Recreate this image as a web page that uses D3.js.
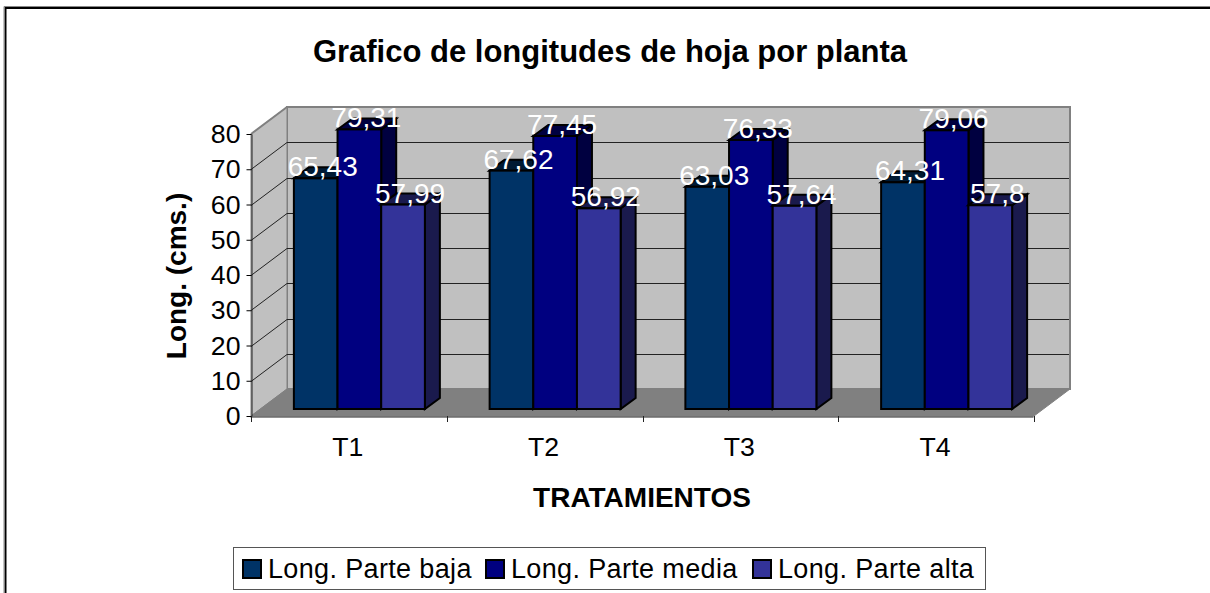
<!DOCTYPE html>
<html><head><meta charset="utf-8">
<script src="https://cdnjs.cloudflare.com/ajax/libs/d3/7.8.5/d3.min.js"></script>
<style>html,body{margin:0;padding:0;background:#fff;overflow:hidden}svg{display:block}text{font-family:"Liberation Sans",Arial,sans-serif}</style>
</head><body><div id="c"></div>
<script>
const categories = ["T1","T2","T3","T4"];
const seriesNames = ["Long. Parte baja","Long. Parte media","Long. Parte alta"];
const baja = [65.43,67.62,63.03,64.31];
const media = [79.31,77.45,76.33,79.06];
const alta = [57.99,56.92,57.64,57.8];
const labelsBaja = ["65,43","67,62","63,03","64,31"];
const labelsMedia = ["79,31","77,45","76,33","79,06"];
const labelsAlta = ["57,99","56,92","57,64","57,8"];
const yTicks = [0,10,20,30,40,50,60,70,80];
const frontColors = ["#003366","#000080","#333399"];
const sideColors = ["#001a33","#000040","#1a1a4d"];
const title = "Grafico de longitudes de hoja por planta";
const xTitle = "TRATAMIENTOS", yTitle = "Long. (cms.)";

const W=1210,H=593;
const svg=d3.select("#c").append("svg").attr("width",W).attr("height",H);
const x0=251,x1=1034,y0=416,yT=134,dx=36,dy=-27;
const bdx=15,bdy=-11,ox=9,oy=-7;
const y=d3.scaleLinear().domain([0,80]).range([y0,yT]);
const xc=d3.scaleBand().domain(categories).range([x0,x1]);
const groupW=131;
const xs=d3.scaleBand().domain(d3.range(3)).range([0,groupW]);
const poly=(pts)=>pts.map(p=>p.join(",")).join(" ");

// outer frame: top and left edges only are visible
svg.append("path").attr("d","M5.5,593V8H1210").attr("fill","none").attr("stroke","#000").attr("stroke-width",2);
svg.append("path").attr("d","M4,593V6.5H1210").attr("fill","none").attr("stroke","#888").attr("stroke-width",1);

// walls
const wall="#c0c0c0", wallEdge="#808080";
svg.append("polygon").attr("points",poly([[x0+dx,y0+dy],[x1+dx,y0+dy],[x1+dx,yT+dy],[x0+dx,yT+dy]])).attr("fill",wall).attr("stroke",wallEdge).attr("stroke-width",2);
svg.append("polygon").attr("points",poly([[x0,y0],[x0+dx,y0+dy],[x0+dx,yT+dy],[x0,yT]])).attr("fill",wall).attr("stroke",wallEdge).attr("stroke-width",1);
svg.append("polygon").attr("points",poly([[x0,y0],[x1,y0],[x1+dx,y0+dy],[x0+dx,y0+dy]])).attr("fill",wallEdge).attr("stroke",wallEdge);

// gridlines
const grid=svg.append("g").attr("fill","none").attr("stroke","#222").attr("stroke-width",1);
yTicks.filter(t=>t>0&&t<80).forEach(t=>{
  const yy=Math.round(y(t))+0.5;
  grid.append("path").attr("d",`M${x0},${yy}L${x0+dx},${yy+dy}L${x1+dx-1},${yy+dy}`);
});
svg.append("path").attr("d",`M${x0},${yT}L${x0+dx},${yT+dy}`).attr("stroke",wallEdge).attr("stroke-width",2);

// axes
const axL=svg.append("g").attr("transform",`translate(${x0+0.5},0)`).call(d3.axisLeft(y).tickValues(yTicks).tickSize(5).tickSizeOuter(0).tickPadding(6).tickFormat(d3.format("d")));
axL.selectAll("text").attr("font-size",26.67).attr("fill","#000").attr("font-family","Liberation Sans");
const axB=svg.append("g").attr("transform",`translate(-1,${y0+0.5})`).call(d3.axisBottom(xc).tickSize(0).tickPadding(21));
axB.selectAll("text").attr("font-size",26.67).attr("fill","#000").attr("font-family","Liberation Sans");
axB.select(".domain").attr("stroke","#222");
axL.select(".domain").attr("stroke","#222");
d3.range(categories.length+1).forEach(i=>{
  const xx=Math.round(x0+i*xc.step());
  svg.append("line").attr("x1",xx+.5).attr("x2",xx+.5).attr("y1",y0).attr("y2",y0+6).attr("stroke","#222");
});

// bars
const series=[baja,media,alta];
const barsG=svg.append("g"), labG=svg.append("g");
const groupOff=(xc.step()-groupW)/2;
const barX=(c,si)=>xc(c)+groupOff+xs(si)+ox+1.5;
categories.forEach((c,ci)=>{
  [0,1,2].forEach(si=>{
    const v=series[si][ci];
    const bx=barX(c,si), bw=xs.bandwidth();
    const by=y(v)+oy, b0=y(0)+oy;
    const g=barsG.append("g").attr("stroke","#000").attr("stroke-width",2).attr("stroke-linejoin","miter");
    g.append("polygon").attr("points",poly([[bx+bw,by],[bx+bw+bdx,by+bdy],[bx+bw+bdx,b0+bdy],[bx+bw,b0]])).attr("fill",sideColors[si]);
    g.append("polygon").attr("points",poly([[bx,by],[bx+bdx,by+bdy],[bx+bw+bdx,by+bdy],[bx+bw,by]])).attr("fill",sideColors[si]);
    g.append("rect").attr("x",bx).attr("y",by).attr("width",bw).attr("height",b0-by).attr("fill",frontColors[si]);
  });
});
const labels=[labelsBaja,labelsMedia,labelsAlta];
categories.forEach((c,ci)=>{
  series.forEach((s,si)=>{
    labG.append("text").attr("x",barX(c,si)+xs.bandwidth()/2+7).attr("y",y(s[ci])+oy-2).attr("text-anchor","middle").attr("font-size",28).attr("fill","#fff").text(labels[si][ci]);
  });
});

// titles
svg.append("text").attr("x",610).attr("y",62).attr("text-anchor","middle").attr("font-size",31).attr("font-weight","bold").text(title);
svg.append("text").attr("x",642).attr("y",507).attr("text-anchor","middle").attr("font-size",28).attr("font-weight","bold").text(xTitle);
svg.append("text").attr("transform","translate(186,276) rotate(-90)").attr("text-anchor","middle").attr("font-size",28).attr("font-weight","bold").text(yTitle);

// legend
svg.append("rect").attr("x",233.5).attr("y",547.5).attr("width",752).attr("height",42).attr("fill","#fff").attr("stroke","#555");
const swatchX=[243,486,753];
seriesNames.forEach((n,i)=>{
  svg.append("rect").attr("x",swatchX[i]).attr("y",560).attr("width",18).attr("height",18).attr("fill",frontColors[i]).attr("stroke","#000").attr("stroke-width",2);
  svg.append("text").attr("x",swatchX[i]+25).attr("y",578).attr("font-size",27).attr("letter-spacing",0.35).attr("fill","#000").text(n);
});
</script></body></html>
